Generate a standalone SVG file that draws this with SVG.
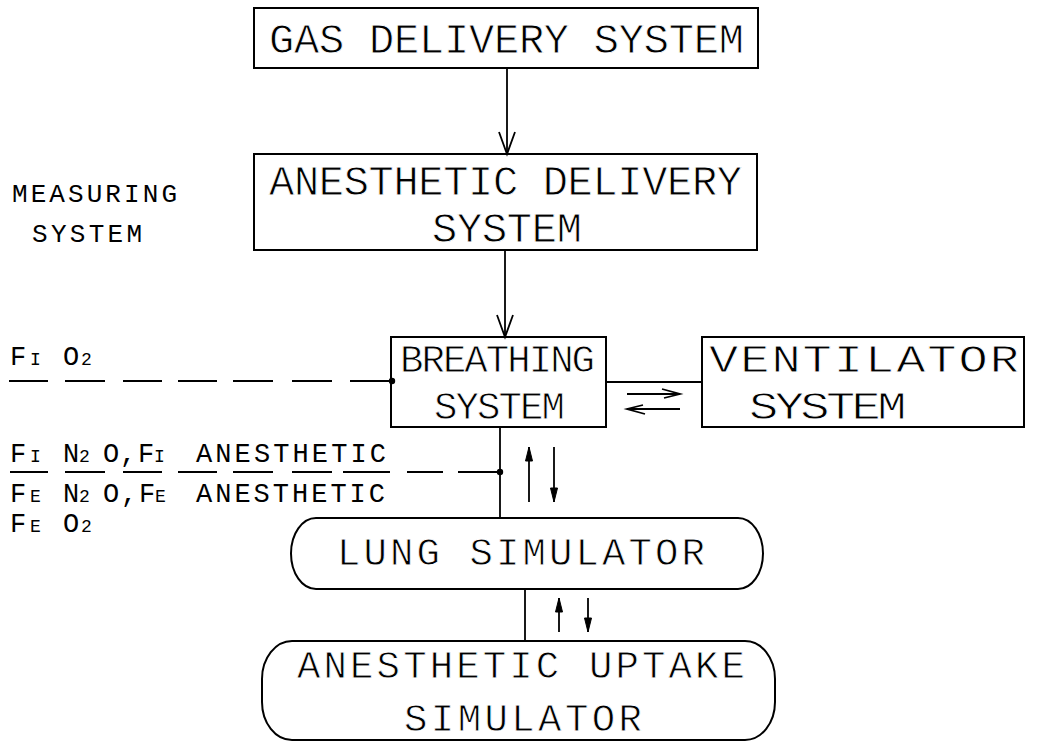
<svg xmlns="http://www.w3.org/2000/svg" width="1052" height="746" viewBox="0 0 1052 746">
<style>
.box{fill:none;stroke:#000;stroke-width:2}
.ln{fill:none;stroke:#000;stroke-width:1.8}
.dash{fill:none;stroke:#000;stroke-width:1.8}
text{font-family:"Liberation Mono","DejaVu Sans Mono",monospace;fill:#000;stroke:#fff;stroke-width:0.8}
.big{font-size:42px}
.mid{font-size:39px}
.lbl{font-size:27px;stroke:none}
.sm{font-size:18px}
.meas{font-size:26px;stroke:none}
</style>
<defs>
<marker id="vopen" markerUnits="userSpaceOnUse" markerWidth="30" markerHeight="30" refX="0" refY="0" orient="auto" overflow="visible">
<path d="M-22,-8 L0,0 L-22,8" fill="none" stroke="#000" stroke-width="1.8"/>
</marker>
<marker id="small" markerUnits="userSpaceOnUse" markerWidth="20" markerHeight="20" refX="0" refY="0" orient="auto" overflow="visible">
<path d="M-14,-3.5 L0,0 L-14,3.5 Z" fill="#000" stroke="#000" stroke-width="1"/>
</marker>
<marker id="harp" markerUnits="userSpaceOnUse" markerWidth="20" markerHeight="20" refX="0" refY="0" orient="auto" overflow="visible">
<path d="M-18,-5 L0,0 L-16,4" fill="none" stroke="#000" stroke-width="1.8"/>
</marker>
</defs>
<rect x="0" y="0" width="1052" height="746" fill="#fff"/>

<g id="gas">
<rect class="box" x="254" y="8" width="504" height="60"/>
<text class="big" x="269" y="53" textLength="475" lengthAdjust="spacing">GAS DELIVERY SYSTEM</text>
</g>

<g id="anesthetic-delivery">
<rect class="box" x="254" y="154" width="503" height="96"/>
<text class="big" x="269" y="195" textLength="473" lengthAdjust="spacing">ANESTHETIC DELIVERY</text>
<text class="big" x="432" y="242" textLength="150" lengthAdjust="spacing">SYSTEM</text>
</g>

<g id="breathing">
<rect class="box" x="391" y="337" width="215" height="90"/>
<text class="mid" x="400" y="372" textLength="195" lengthAdjust="spacing">BREATHING</text>
<text class="mid" x="434" y="419" textLength="131" lengthAdjust="spacing">SYSTEM</text>
</g>

<g id="ventilator">
<rect class="box" x="702" y="337" width="322" height="90"/>
<text class="mid" transform="scale(1.25,1)" x="567.2" y="372" textLength="248" lengthAdjust="spacing">VENTILATOR</text>
<text class="mid" transform="scale(1.25,1)" x="599.2" y="419" textLength="126" lengthAdjust="spacing">SYSTEM</text>
</g>

<g id="lung">
<path class="box" d="M316,518 H738 A25,35.5 0 0 1 738,589 H316 A25,35.5 0 0 1 316,518 Z"/>
<text class="mid" x="337" y="565" textLength="368" lengthAdjust="spacing">LUNG SIMULATOR</text>
</g>

<g id="uptake">
<rect class="box" x="262" y="641" width="513" height="99" rx="30" ry="38"/>
<text class="mid" x="297" y="678" textLength="448" lengthAdjust="spacing">ANESTHETIC UPTAKE</text>
<text class="mid" x="404" y="731" textLength="238" lengthAdjust="spacing">SIMULATOR</text>
</g>

<g id="measuring">
<text class="meas" x="12" y="202" textLength="165" lengthAdjust="spacing">MEASURING</text>
<text class="meas" x="32" y="242" textLength="110" lengthAdjust="spacing">SYSTEM</text>
</g>

<g id="measure-labels">
<text class="lbl" y="365"><tspan x="10">F</tspan><tspan x="30" class="sm">I</tspan><tspan x="63">O</tspan><tspan x="81" class="sm">2</tspan></text>
<text class="lbl" y="462"><tspan x="10">F</tspan><tspan x="30" class="sm">I</tspan><tspan x="63">N</tspan><tspan x="79" class="sm">2</tspan><tspan x="103">O</tspan><tspan x="120">,</tspan><tspan x="138">F</tspan><tspan x="154" class="sm">I</tspan><tspan x="196" textLength="190" lengthAdjust="spacing">ANESTHETIC</tspan></text>
<text class="lbl" y="502"><tspan x="10">F</tspan><tspan x="30" class="sm">E</tspan><tspan x="63">N</tspan><tspan x="79" class="sm">2</tspan><tspan x="103">O</tspan><tspan x="121">,</tspan><tspan x="139">F</tspan><tspan x="155" class="sm">E</tspan><tspan x="196" textLength="189" lengthAdjust="spacing">ANESTHETIC</tspan></text>
<text class="lbl" y="532"><tspan x="10">F</tspan><tspan x="30" class="sm">E</tspan><tspan x="63">O</tspan><tspan x="81" class="sm">2</tspan></text>
</g>

<g id="connectors">
<line class="ln" x1="507" y1="68" x2="507" y2="154" marker-end="url(#vopen)"/>
<line class="ln" x1="505" y1="250" x2="505" y2="337" marker-end="url(#vopen)"/>
<line class="ln" x1="606" y1="382" x2="702" y2="382"/>
<line class="ln" x1="627" y1="394" x2="680" y2="394" marker-end="url(#harp)"/>
<line class="ln" x1="680" y1="409" x2="627" y2="409" marker-end="url(#harp)"/>
<line class="ln" x1="500" y1="427" x2="500" y2="518"/>
<line class="ln" x1="529" y1="502" x2="529" y2="447" marker-end="url(#small)"/>
<line class="ln" x1="554" y1="447" x2="554" y2="502" marker-end="url(#small)"/>
<line class="ln" x1="525" y1="589" x2="525" y2="641"/>
<line class="ln" x1="559" y1="632" x2="559" y2="598" marker-end="url(#small)"/>
<line class="ln" x1="588" y1="598" x2="588" y2="632" marker-end="url(#small)"/>
<path class="dash" d="M9,381H48 M65,381H105 M123,381H162 M178,381H217 M233,381H273 M292,381H332 M350,381H391"/>
<path class="dash" d="M10,472H48 M65,472H105 M123,472H162 M178,472H217 M233,472H273 M292,472H332 M343,472H390 M407,472H443 M458,472H500"/>
<circle cx="392" cy="381" r="3.2" fill="#000"/>
<circle cx="500" cy="472" r="3.2" fill="#000"/>
</g>
</svg>
